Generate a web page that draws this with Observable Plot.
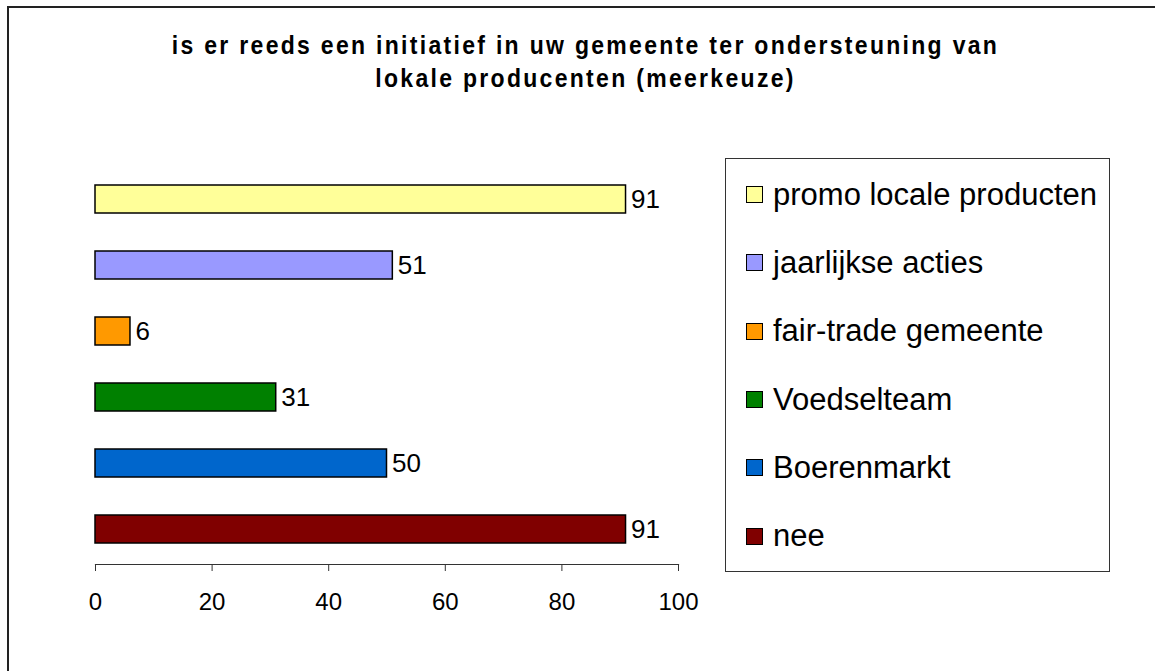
<!DOCTYPE html>
<html><head><meta charset="utf-8">
<script src="https://cdn.jsdelivr.net/npm/d3@7"></script>
<script src="https://cdn.jsdelivr.net/npm/@observablehq/plot@0.6"></script>
<style>
body{margin:0;background:#fff;overflow:hidden;font-family:"Liberation Sans",Arial,sans-serif;}
#wrap{position:relative;width:1155px;height:671px;overflow:hidden;background:#fff;}
#frame{position:absolute;left:7px;top:6px;width:1300px;height:800px;border-left:2px solid #222;border-top:2px solid #222;}
#title{position:absolute;left:8px;top:29px;width:1155px;text-align:center;font-weight:bold;font-size:23px;letter-spacing:2.3px;line-height:30px;color:#000;transform:scaleY(1.1);transform-origin:50% 0;}
#chart{position:absolute;left:0;top:0;}
#legend{position:absolute;left:725px;top:158px;width:385px;height:414px;border:1px solid #333;box-sizing:border-box;padding-top:1.5px;background:#fff;}
.item{height:68.3px;display:flex;align-items:center;padding-left:20px;font-size:31px;color:#000;white-space:nowrap;}
.sw{width:15px;height:15px;border:1.5px solid #000;margin-right:10px;flex:none;}
</style>
</head><body>
<div id="wrap">
  <div id="frame"></div>
  <div id="title">is er reeds een initiatief in uw gemeente ter ondersteuning van<br>lokale producenten (meerkeuze)</div>
  <div id="chart"></div>
  <div id="legend"></div>
</div>
<script>
const categories = ["promo locale producten","jaarlijkse acties","fair-trade gemeente","Voedselteam","Boerenmarkt","nee"];
const values = [91, 51, 6, 31, 50, 91];
const colors = ["#FFFF99","#9999FF","#FF9900","#008000","#0066CC","#800000"];
const xTicks = [0, 20, 40, 60, 80, 100];

const data = categories.map((c, i) => ({category: c, value: values[i]}));

const chart = Plot.plot({
  width: 720,
  height: 671,
  marginLeft: 95,
  marginRight: 42,
  marginTop: 163,
  marginBottom: 107,
  style: {fontFamily: "'Liberation Sans', Arial, sans-serif", fontSize: "24px", color: "#000", background: "transparent", overflow: "visible"},
  x: {domain: [0, 100], label: null},
  y: {domain: categories, paddingInner: 0.58, paddingOuter: 0.29, axis: null},
  color: {domain: categories, range: colors},
  marks: [
    Plot.barX(data, {x: "value", y: "category", fill: "category", stroke: "#000", strokeWidth: 1.5}),
    Plot.text(data, {x: "value", y: "category", text: d => String(d.value), textAnchor: "start", dx: 5, fontSize: 26, fill: "#000"}),
    Plot.frame({anchor: "bottom", stroke: "#333", strokeWidth: 1.2}),
    Plot.axisX({ticks: xTicks, tickSize: 7, tickPadding: 21, fontSize: 24, stroke: "#333", label: null, tickFormat: d => String(d)})
  ]
});
document.getElementById("chart").appendChild(chart);

const legend = document.getElementById("legend");
categories.forEach((c, i) => {
  const item = document.createElement("div");
  item.className = "item";
  const sw = document.createElement("span");
  sw.className = "sw";
  sw.style.background = colors[i];
  const t = document.createElement("span");
  t.textContent = c;
  item.appendChild(sw);
  item.appendChild(t);
  legend.appendChild(item);
});
</script>
</body></html>
